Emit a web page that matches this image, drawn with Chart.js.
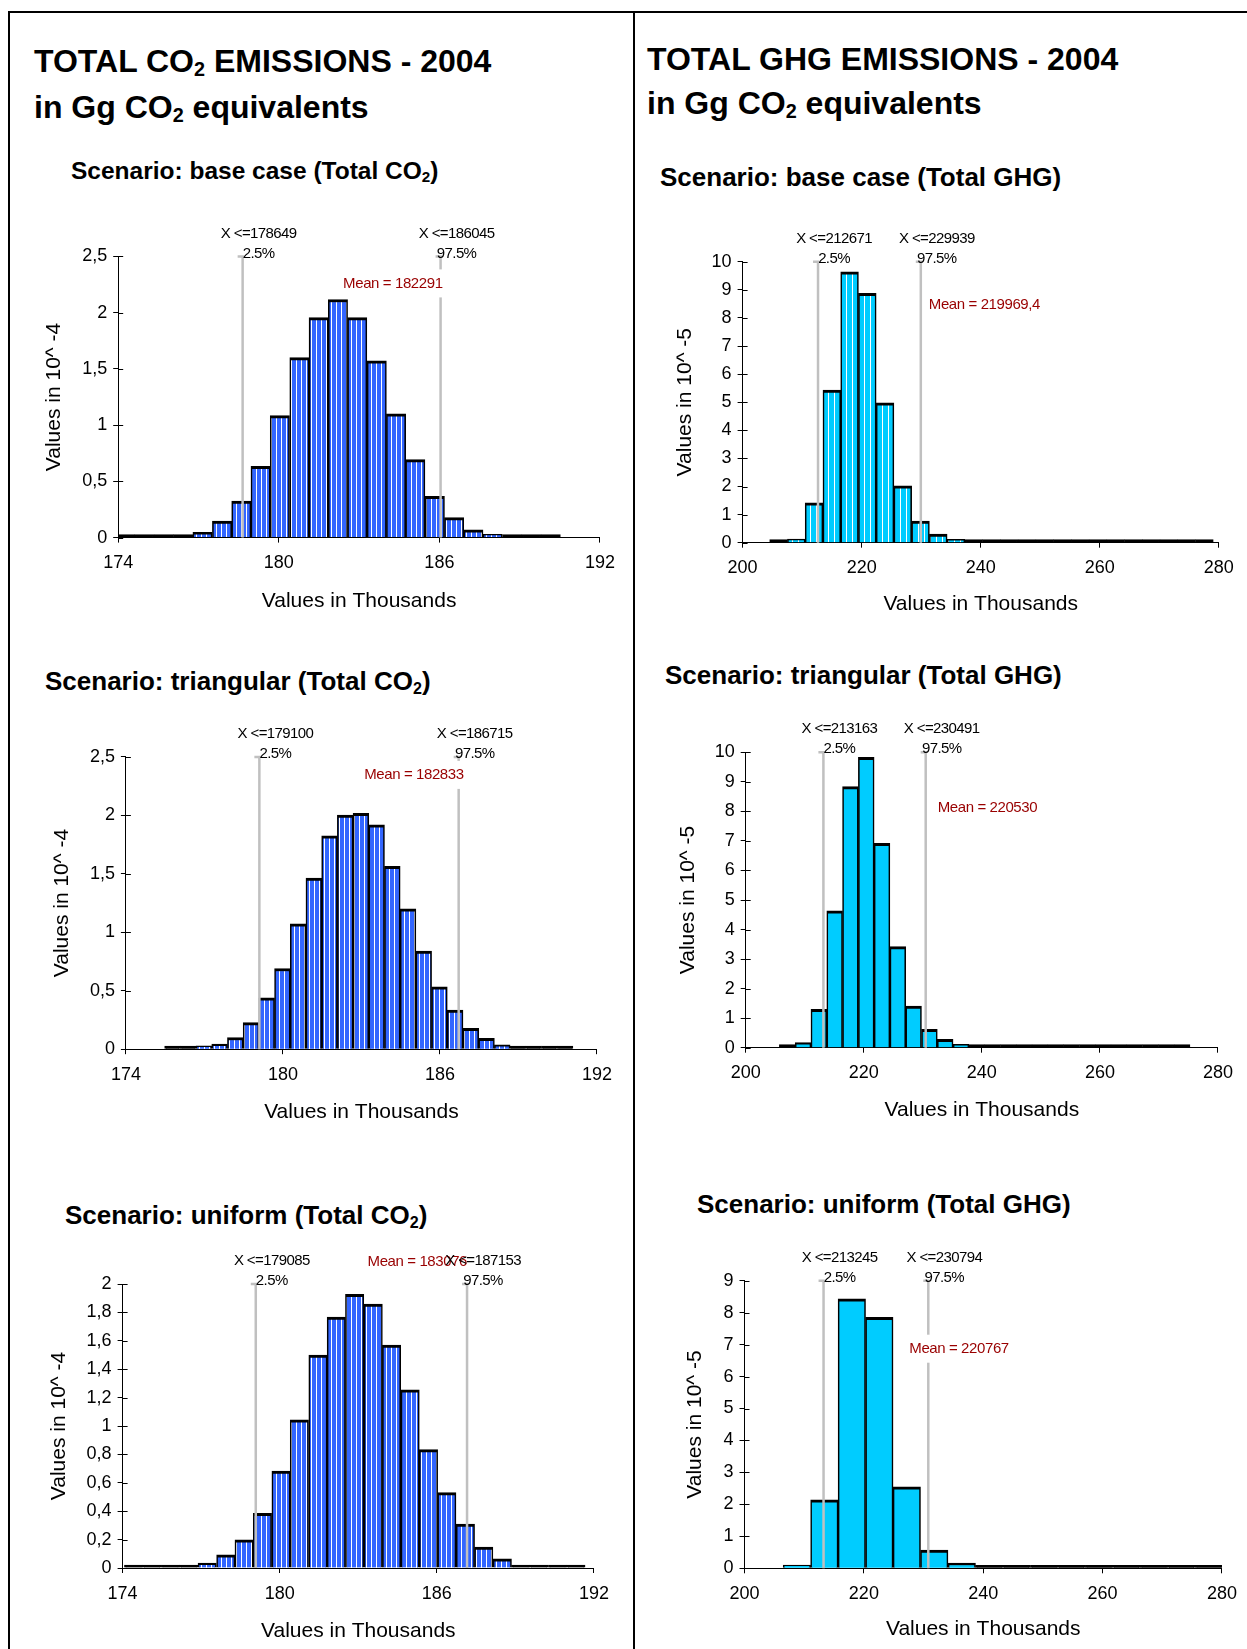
<!DOCTYPE html>
<html>
<head>
<meta charset="utf-8">
<script src="https://cdn.jsdelivr.net/npm/chart.js@4.4.1/dist/chart.umd.min.js"></script>
<style>
  html, body { margin: 0; padding: 0; background: #fff; }
  #page { position: relative; width: 1247px; height: 1649px; overflow: hidden; font-family: 'Liberation Sans', Arial, sans-serif; }
  .rule { position: absolute; background: #000; }
  .head { position: absolute; white-space: nowrap; font-weight: bold; color: #000; line-height: 1; }
  .head sub { font-size: 0.62em; vertical-align: -0.22em; line-height: 1; }
  canvas { position: absolute; }
</style>
</head>
<body>
<div id="page">
  <div class="rule" style="left:8px; top:11px; width:1239px; height:2px;"></div>
  <div class="rule" style="left:8px; top:11px; width:2px; height:1638px;"></div>
  <div class="rule" style="left:633px; top:11px; width:2px; height:1638px;"></div>

  <div class="head" style="left:34px; top:45px; font-size:32px;">TOTAL CO<sub>2</sub> EMISSIONS - 2004</div>
  <div class="head" style="left:34px; top:91px; font-size:32px;">in Gg CO<sub>2</sub> equivalents</div>
  <div class="head" style="left:647px; top:43px; font-size:32px;">TOTAL GHG EMISSIONS - 2004</div>
  <div class="head" style="left:647px; top:87px; font-size:32px;">in Gg CO<sub>2</sub> equivalents</div>

  <div class="head" style="left:71px; top:159px; font-size:24.5px;">Scenario: base case (Total CO<sub>2</sub>)</div>
  <div class="head" style="left:45px; top:668px; font-size:26px;">Scenario: triangular (Total CO<sub>2</sub>)</div>
  <div class="head" style="left:65px; top:1202px; font-size:26px;">Scenario: uniform (Total CO<sub>2</sub>)</div>
  <div class="head" style="left:660px; top:164px; font-size:26px;">Scenario: base case (Total GHG)</div>
  <div class="head" style="left:665px; top:662px; font-size:26px;">Scenario: triangular (Total GHG)</div>
  <div class="head" style="left:697px; top:1191px; font-size:26px;">Scenario: uniform (Total GHG)</div>

  <canvas id="co2Base"></canvas>
  <canvas id="ghgBase"></canvas>
  <canvas id="co2Tri"></canvas>
  <canvas id="ghgTri"></canvas>
  <canvas id="co2Uni"></canvas>
  <canvas id="ghgUni"></canvas>
</div>

<script>
// histogram bins (centres, in thousands) and densities
const co2BaseBins = [174.26, 174.98, 175.71, 176.43, 177.15, 177.88, 178.60, 179.32, 180.04, 180.77, 181.49, 182.21, 182.93, 183.66, 184.38, 185.10, 185.83, 186.55, 187.27, 187.99, 188.72, 189.44, 190.16];
const co2BaseDensity = [0.002, 0.002, 0.004, 0.018, 0.047, 0.147, 0.324, 0.634, 1.085, 1.60, 1.955, 2.117, 1.955, 1.571, 1.10, 0.693, 0.368, 0.177, 0.068, 0.030, 0.015, 0.006, 0.003];
const co2BaseMarks = [178649, 186045];
const co2BaseMean = 182291;

const ghgBaseBins = [206.04, 209.02, 212.00, 214.99, 217.97, 220.95, 223.93, 226.91, 229.89, 232.87, 235.85, 238.83, 241.81, 244.79, 247.78, 250.76, 253.74, 256.72, 259.70, 262.68, 265.66, 268.64, 271.62, 274.60, 277.58];
const ghgBaseDensity = [0.04, 0.13, 1.42, 5.43, 9.64, 8.87, 4.98, 2.02, 0.77, 0.31, 0.12, 0.07, 0.03, 0.02, 0.02, 0.01, 0.01, 0.01, 0.01, 0.01, 0.005, 0.005, 0.005, 0.005, 0.005];
const ghgBaseMarks = [212671, 229939];
const ghgBaseMean = 219969.4;

const co2TriBins = [175.78, 176.38, 176.98, 177.58, 178.18, 178.78, 179.38, 179.98, 180.58, 181.18, 181.78, 182.38, 182.98, 183.58, 184.18, 184.78, 185.38, 185.98, 186.58, 187.18, 187.78, 188.38, 188.98, 189.58, 190.18, 190.78];
const co2TriDensity = [0.003, 0.003, 0.028, 0.043, 0.10, 0.227, 0.44, 0.69, 1.073, 1.464, 1.825, 2.003, 2.018, 1.918, 1.564, 1.20, 0.84, 0.533, 0.335, 0.179, 0.094, 0.037, 0.014, 0.014, 0.004, 0.004];
const co2TriMarks = [179100, 186715];
const co2TriMean = 182833;

const ghgTriBins = [207.04, 209.72, 212.39, 215.07, 217.74, 220.42, 223.09, 225.77, 228.44, 231.12, 233.79, 236.47, 239.14, 241.82, 244.49, 247.17, 249.84, 252.52, 255.19, 257.87, 260.54, 263.22, 265.89, 268.57, 271.24, 273.92];
const ghgTriDensity = [0.03, 0.17, 1.30, 4.63, 8.84, 9.83, 6.92, 3.42, 1.41, 0.62, 0.28, 0.11, 0.06, 0.06, 0.06, 0.02, 0.02, 0.01, 0.01, 0.01, 0.01, 0.01, 0.01, 0.01, 0.01, 0.01];
const ghgTriMarks = [213163, 230491];
const ghgTriMean = 220530;

const co2UniBins = [174.42, 175.12, 175.83, 176.53, 177.23, 177.94, 178.64, 179.34, 180.05, 180.75, 181.46, 182.16, 182.86, 183.57, 184.27, 184.98, 185.68, 186.38, 187.09, 187.79, 188.50, 189.20, 189.90, 190.61, 191.31];
const co2UniDensity = [0.003, 0.003, 0.004, 0.012, 0.035, 0.093, 0.198, 0.385, 0.683, 1.044, 1.499, 1.767, 1.928, 1.858, 1.569, 1.254, 0.834, 0.531, 0.31, 0.147, 0.065, 0.019, 0.012, 0.004, 0.003];
const co2UniMarks = [179085, 187153];
const co2UniMean = 183076;

const ghgUniBins = [208.78, 213.38, 217.98, 222.59, 227.19, 231.79, 236.40, 241.00, 245.60, 250.21, 254.81, 259.41, 264.02, 268.62, 273.22, 277.83];
const ghgUniDensity = [0.10, 2.14, 8.43, 7.85, 2.55, 0.57, 0.16, 0.05, 0.02, 0.01, 0.01, 0.01, 0.01, 0.01, 0.01, 0.01];
const ghgUniMarks = [213245, 230794];
const ghgUniMean = 220767;

const markTags = ['2.5%', '97.5%'];
const co2Ticks = { min: 174, max: 192, step: 6 };
const ghgTicks = { min: 200, max: 280, step: 20 };

Chart.defaults.font.family = "'Liberation Sans', Arial, sans-serif";
Chart.defaults.color = '#000';

function stripes(base, period) {
  const c = document.createElement('canvas');
  c.width = period; c.height = 4;
  const g = c.getContext('2d');
  g.fillStyle = base;
  g.fillRect(0, 0, period, 4);
  g.fillStyle = '#ffffff';
  g.fillRect(period - 1, 0, 1, 4);
  return g.createPattern(c, 'repeat');
}

const blueStripes = stripes('#3366ff', 5);
const cyanStripes = stripes('#00ccff', 6);
const cyanSolid = '#00ccff';

function fmt(n) {
  return String(n).replace('.', ',');
}

// percentile lines, their tags and the mean box
function markerPlugin(spec) {
  return {
    id: 'markers',
    afterDatasetsDraw(chart) {
      const { ctx, chartArea, scales: { x, y } } = chart;
      const top = chartArea.top;
      const base = y.getPixelForValue(0);
      const px = spec.marks.map(m => x.getPixelForValue(m / 1000));
      ctx.save();

      // inner half of the y tick marks
      ctx.strokeStyle = '#000';
      ctx.lineWidth = 1;
      y.ticks.forEach(t => {
        const ty = Math.round(y.getPixelForValue(t.value)) + 0.5;
        ctx.beginPath();
        ctx.moveTo(chartArea.left, ty);
        ctx.lineTo(chartArea.left + 5, ty);
        ctx.stroke();
      });

      ctx.strokeStyle = '#c0c0c0';
      ctx.lineWidth = 2.5;
      px.forEach(p => {
        ctx.beginPath();
        ctx.moveTo(p - 5, top);
        ctx.lineTo(p, top);
        ctx.lineTo(p, base);
        ctx.stroke();
      });

      ctx.font = '15px "Liberation Sans", Arial, sans-serif';
      ctx.letterSpacing = '-0.4px';
      ctx.textBaseline = 'middle';
      const text = 'Mean = ' + fmt(spec.mean);
      const w = ctx.measureText(text).width;
      const ax = px[1] + spec.meanDx;
      const x0 = spec.meanAlign === 'right' ? ax - w : ax;
      const my = top + spec.meanDy;
      ctx.fillStyle = '#ffffff';
      ctx.fillRect(x0 - 2, my - 14, w + 4, 28);
      ctx.fillStyle = '#990000';
      ctx.textAlign = 'left';
      ctx.fillText(text, x0, my);

      ctx.letterSpacing = '-0.6px';
      ctx.fillStyle = '#000';
      ctx.textAlign = 'center';
      px.forEach((p, i) => {
        ctx.fillText('X <=' + spec.marks[i], p + 16, top - 23);
        ctx.fillText(markTags[i], p + 16, top - 3);
      });
      ctx.restore();
    }
  };
}

function histogram(id, box, plot, spec) {
  const canvas = document.getElementById(id);
  canvas.width = box.right - box.left;
  canvas.height = box.bottom - box.top;
  canvas.style.left = box.left + 'px';
  canvas.style.top = box.top + 'px';

  new Chart(canvas, {
    type: 'bar',
    data: {
      datasets: [{
        data: spec.bins.map((b, i) => ({ x: b, y: spec.values[i] })),
        backgroundColor: c => {
          const ys = c.chart.scales.y;
          if (!ys || !c.parsed) return spec.fill;
          const h = ys.getPixelForValue(0) - ys.getPixelForValue(c.parsed.y);
          return h < 3 ? '#000' : spec.fill;
        },
        borderColor: '#000',
        borderWidth: { top: 3, left: 1.6, right: 1.6, bottom: 0 },
        borderSkipped: 'start',
        barPercentage: 1,
        categoryPercentage: 1,
        minBarLength: 3,
        clip: 0
      }]
    },
    options: {
      responsive: false,
      animation: false,
      devicePixelRatio: 1,
      events: [],
      layout: {
        padding: { left: 0, bottom: 0, top: plot.top - box.top, right: box.right - plot.right }
      },
      plugins: { legend: { display: false }, tooltip: { enabled: false } },
      scales: {
        x: {
          type: 'linear',
          min: spec.xTicks.min,
          max: spec.xTicks.max,
          offset: false,
          ticks: { stepSize: spec.xTicks.step, font: { size: 18 }, padding: 10, maxRotation: 0, autoSkip: false },
          grid: { drawOnChartArea: false, tickLength: 5, color: '#000', offset: false },
          border: { color: '#000', width: 1 },
          title: { display: true, text: 'Values in Thousands', font: { size: 21 }, padding: 0 },
          afterFit: s => { s.height = box.bottom - plot.bottom; }
        },
        y: {
          min: 0,
          max: spec.yMax,
          ticks: { stepSize: spec.yStep, font: { size: 18 }, padding: 6, callback: v => fmt(v) },
          grid: { drawOnChartArea: false, tickLength: 5, color: '#000' },
          border: { color: '#000', width: 1 },
          title: { display: true, text: spec.yTitle, font: { size: 21 }, padding: 0 },
          afterFit: s => { s.width = plot.left - box.left; }
        }
      }
    },
    plugins: [markerPlugin(spec)]
  });
}

histogram('co2Base',
  { left: 42, top: 211, right: 625, bottom: 614 },
  { left: 118.2, top: 256.4, right: 600, bottom: 537.6 },
  { bins: co2BaseBins, values: co2BaseDensity, marks: co2BaseMarks, mean: co2BaseMean,
    fill: blueStripes, xTicks: co2Ticks, yMax: 2.5, yStep: 0.5, yTitle: 'Values in 10^ -4',
    meanAlign: 'right', meanDx: 2, meanDy: 27 });

histogram('ghgBase',
  { left: 673, top: 217, right: 1244, bottom: 617 },
  { left: 742.6, top: 261.7, right: 1218.8, bottom: 542.7 },
  { bins: ghgBaseBins, values: ghgBaseDensity, marks: ghgBaseMarks, mean: ghgBaseMean,
    fill: cyanStripes, xTicks: ghgTicks, yMax: 10, yStep: 1, yTitle: 'Values in 10^ -5',
    meanAlign: 'left', meanDx: 8, meanDy: 43 });

histogram('co2Tri',
  { left: 50, top: 712, right: 622, bottom: 1125 },
  { left: 125.9, top: 756.9, right: 597.5, bottom: 1049.2 },
  { bins: co2TriBins, values: co2TriDensity, marks: co2TriMarks, mean: co2TriMean,
    fill: blueStripes, xTicks: co2Ticks, yMax: 2.5, yStep: 0.5, yTitle: 'Values in 10^ -4',
    meanAlign: 'right', meanDx: 5, meanDy: 18 });

histogram('ghgTri',
  { left: 676, top: 707, right: 1243, bottom: 1123 },
  { left: 745.7, top: 752.3, right: 1218, bottom: 1047.7 },
  { bins: ghgTriBins, values: ghgTriDensity, marks: ghgTriMarks, mean: ghgTriMean,
    fill: cyanSolid, xTicks: ghgTicks, yMax: 10, yStep: 1, yTitle: 'Values in 10^ -5',
    meanAlign: 'left', meanDx: 12, meanDy: 56 });

histogram('co2Uni',
  { left: 47, top: 1239, right: 619, bottom: 1644 },
  { left: 122.6, top: 1284, right: 594.2, bottom: 1568 },
  { bins: co2UniBins, values: co2UniDensity, marks: co2UniMarks, mean: co2UniMean,
    fill: blueStripes, xTicks: co2Ticks, yMax: 2, yStep: 0.2, yTitle: 'Values in 10^ -4',
    meanAlign: 'right', meanDx: 0, meanDy: -22 });

histogram('ghgUni',
  { left: 683, top: 1236, right: 1247, bottom: 1642 },
  { left: 744.5, top: 1280.7, right: 1232.3, bottom: 1568.3 },
  { bins: ghgUniBins, values: ghgUniDensity, marks: ghgUniMarks, mean: ghgUniMean,
    fill: cyanSolid, xTicks: ghgTicks, yMax: 9, yStep: 1, yTitle: 'Values in 10^ -5',
    meanAlign: 'left', meanDx: -19, meanDy: 68 });
</script>
</body>
</html>
